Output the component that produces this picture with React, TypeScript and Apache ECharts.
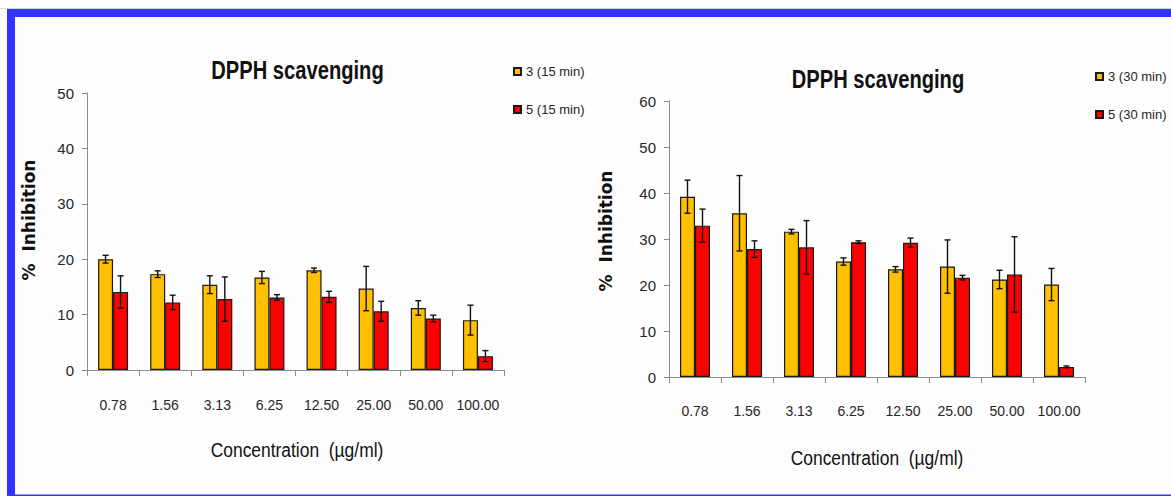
import React, { useEffect, useRef } from "react";
import * as echarts from "echarts";

const categories = ["0.78", "1.56", "3.13", "6.25", "12.50", "25.00", "50.00", "100.00"];

const legend15 = ["3 (15 min)", "5 (15 min)"];
const legend30 = ["3 (30 min)", "5 (30 min)"];

const c3_15 = [20.0, 17.3, 15.4, 16.7, 18.0, 14.7, 11.2, 9.0];
const c3_15err = [0.7, 0.6, 1.6, 1.1, 0.4, 4.0, 1.3, 2.7];
const c5_15 = [14.1, 12.2, 12.8, 13.1, 13.2, 10.6, 9.3, 2.5];
const c5_15err = [2.9, 1.3, 4.0, 0.5, 1.0, 1.8, 0.6, 1.0];

const c3_30 = [39.2, 35.6, 31.6, 25.1, 23.4, 24.0, 21.2, 20.1];
const c3_30err = [3.6, 8.2, 0.5, 0.8, 0.6, 5.8, 2.0, 3.5];
const c5_30 = [32.9, 27.8, 28.2, 29.3, 29.2, 21.6, 22.3, 2.2];
const c5_30err = [3.6, 1.8, 5.8, 0.3, 1.0, 0.5, 8.2, 0.2];

const yTicks15 = { min: 0, max: 50, interval: 10 };
const yTicks30 = { min: 0, max: 60, interval: 10 };

const YELLOW = "#FFC000";
const RED = "#FF0000";
const SANS = "'Liberation Sans', Arial, sans-serif";

export default function App() {
  const ref = useRef<HTMLDivElement>(null);
  useEffect(() => {
    if (!ref.current) return;
    const chart = echarts.init(ref.current, undefined, { renderer: "svg" });

    const errSeries = (vals: number[], errs: number[], idx: number, offset: number) => ({
      type: "custom",
      xAxisIndex: idx,
      yAxisIndex: idx,
      z: 10,
      silent: true,
      data: vals.map((v, i) => [i, v, errs[i]]),
      renderItem: (params: any, api: any) => {
        const i = api.value(0);
        const v = api.value(1);
        const e = api.value(2);
        const top = api.coord([i, v + e]);
        const bot = api.coord([i, Math.max(0, v - e)]);
        const x = top[0] + offset;
        const cap = 3;
        const st = { stroke: "#111", lineWidth: 1.4 };
        return {
          type: "group",
          children: [
            { type: "line", shape: { x1: x, y1: top[1], x2: x, y2: bot[1] }, style: st },
            { type: "line", shape: { x1: x - cap, y1: top[1], x2: x + cap, y2: top[1] }, style: st },
            { type: "line", shape: { x1: x - cap, y1: bot[1], x2: x + cap, y2: bot[1] }, style: st },
          ],
        };
      },
    });

    const barSeries = (name: string, vals: number[], idx: number, color: string) => ({
      type: "bar",
      name,
      xAxisIndex: idx,
      yAxisIndex: idx,
      data: vals,
      barWidth: 15,
      barGap: "0%",
      itemStyle: { color, borderColor: "#1a1a1a", borderWidth: 1.2 },
    });

    const xAxis = (idx: number, margin: number) => ({
      type: "category",
      gridIndex: idx,
      data: categories,
      axisLine: { lineStyle: { color: "#8c8c8c", width: 1 } },
      axisTick: { show: true, length: 6, lineStyle: { color: "#8c8c8c" } },
      axisLabel: { interval: 0, margin, fontSize: 14, color: "#262626", fontFamily: SANS },
      splitLine: { show: false },
    });

    const yAxis = (idx: number, t: { min: number; max: number; interval: number }) => ({
      type: "value",
      gridIndex: idx,
      min: t.min,
      max: t.max,
      interval: t.interval,
      axisLine: { show: true, lineStyle: { color: "#8c8c8c", width: 1 } },
      axisTick: { show: true, length: 5, lineStyle: { color: "#8c8c8c" } },
      axisLabel: { margin: 13, fontSize: 15, color: "#262626", fontFamily: SANS },
      splitLine: { show: false },
    });

    const legendCfg = (data: string[], left: number, top: number) => ({
      data,
      orient: "vertical",
      left,
      top,
      padding: 0,
      itemWidth: 7,
      itemHeight: 7,
      itemGap: 25,
      icon: "rect",
      selectedMode: false,
      textStyle: { fontSize: 13, color: "#262626", fontFamily: SANS },
    });

    const titleText = (x: number, y: number) => ({
      type: "text",
      x,
      y,
      scaleX: 0.775,
      style: {
        text: "DPPH scavenging",
        font: `bold 26px ${SANS}`,
        fill: "#111",
        textAlign: "center",
        textVerticalAlign: "middle",
      },
    });
    const xTitle = (x: number, y: number) => ({
      type: "text",
      x,
      y,
      scaleX: 0.83,
      style: {
        text: "Concentration  (µg/ml)",
        font: `21px ${SANS}`,
        fill: "#111",
        textAlign: "center",
        textVerticalAlign: "middle",
      },
    });
    const yTitle = (x: number, y: number) => ({
      type: "text",
      x,
      y,
      rotation: Math.PI / 2,
      style: {
        text: "%  Inhibition",
        font: "bold 17px 'DejaVu Sans', sans-serif",
        fill: "#111",
        textAlign: "center",
        textVerticalAlign: "middle",
      },
    });

    chart.setOption({
      animation: false,
      backgroundColor: "#fdfdfd",
      grid: [
        { left: 87, top: 93, width: 417, height: 277 },
        { left: 669, top: 101, width: 416, height: 276 },
      ],
      xAxis: [xAxis(0, 28), xAxis(1, 27)],
      yAxis: [yAxis(0, yTicks15), yAxis(1, yTicks30)],
      legend: [legendCfg(legend15, 513, 65), legendCfg(legend30, 1095, 70)],
      series: [
        barSeries(legend15[0], c3_15, 0, YELLOW),
        barSeries(legend15[1], c5_15, 0, RED),
        barSeries(legend30[0], c3_30, 1, YELLOW),
        barSeries(legend30[1], c5_30, 1, RED),
        errSeries(c3_15, c3_15err, 0, -7.5),
        errSeries(c5_15, c5_15err, 0, 7.5),
        errSeries(c3_30, c3_30err, 1, -7.5),
        errSeries(c5_30, c5_30err, 1, 7.5),
      ],
      graphic: [
        { type: "rect", shape: { x: 0, y: 8, width: 1171, height: 1 }, style: { fill: "#d8d8d8" } },
        { type: "rect", shape: { x: 7, y: 9, width: 1164, height: 8 }, style: { fill: "#3333ff" } },
        { type: "rect", shape: { x: 7, y: 9, width: 8, height: 487 }, style: { fill: "#3333ff" } },
        { type: "rect", shape: { x: 15, y: 494.5, width: 1156, height: 1.5 }, style: { fill: "#3333ff" } },
        titleText(297.5, 70),
        titleText(878, 79),
        xTitle(297, 450),
        xTitle(877, 458),
        yTitle(28.5, 220),
        yTitle(606, 231),
      ],
    });
    return () => chart.dispose();
  }, []);
  return (
    <div
      ref={ref}
      style={{ position: "absolute", left: 0, top: 0, width: 1171, height: 496 }}
    />
  );
}
